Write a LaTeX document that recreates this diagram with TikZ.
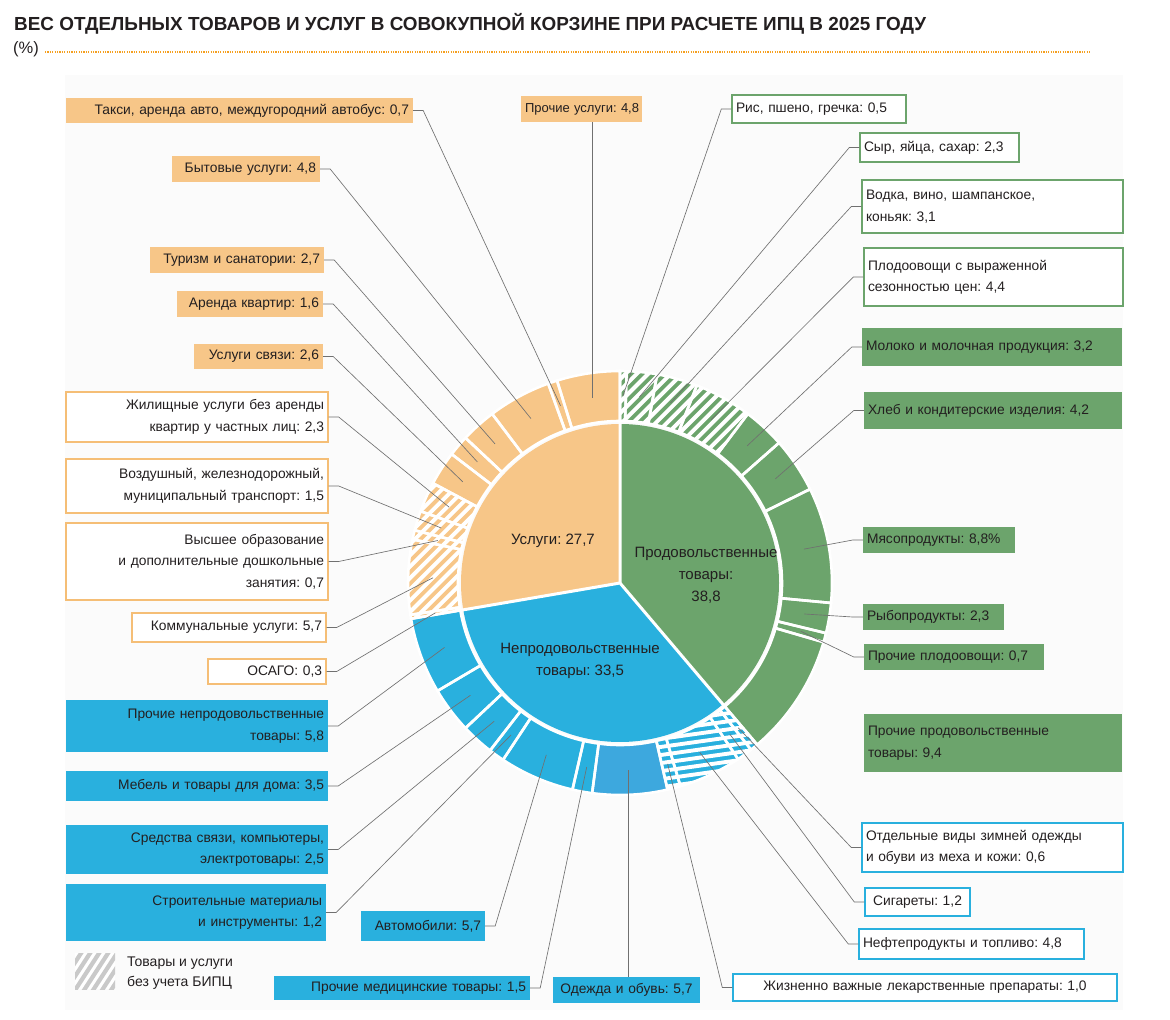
\documentclass[tikz,border=0pt]{standalone}
\usepackage{fontspec}
\setmainfont{Liberation Sans}
\usetikzlibrary{calc}
\frenchspacing
\definecolor{svc}{HTML}{F7C688}
\definecolor{svcb}{HTML}{F5BE76}
\definecolor{food}{HTML}{6CA46C}
\definecolor{nonf}{HTML}{29B0DE}
\definecolor{nonfb}{HTML}{3DA8DE}
\definecolor{ink}{HTML}{231F20}
\definecolor{lead}{HTML}{707070}
\definecolor{dotc}{HTML}{F5A020}
\definecolor{panel}{HTML}{FBFBFB}
\definecolor{hatchgray}{HTML}{C9C9C9}
\tikzset{
  lbl/.style={rectangle, inner xsep=4pt, inner ysep=0pt, text=ink,
    font=\frenchspacing\fontsize{13.8}{21.5}\selectfont},
  svcF/.style={lbl, fill=svc, align=right},
  svcW/.style={lbl, fill=white, draw=svcb, line width=1.4pt, align=right},
  nonF/.style={lbl, fill=nonf, align=right},
  nonW/.style={lbl, fill=white, draw=nonf, line width=1.4pt, align=left},
  foodF/.style={lbl, fill=food, align=left},
  foodW/.style={lbl, fill=white, draw=food, line width=1.4pt, align=left},
  smalltxt/.style={font=\frenchspacing\fontsize{13}{20}\selectfont},
  leader/.style={draw=lead, line width=0.65pt},
  innertxt/.style={text=ink, align=center, font=\frenchspacing\fontsize{15}{22}\selectfont},
  sepline/.style={white, line width=2.6pt},
}
% label box: name, x1, y1, x2, y2 (pixels, y downward), style, text
\newcommand\lab[7]{%
  \pgfmathsetmacro\labw{#4-#2}\pgfmathsetmacro\labh{#5-#3}%
  \pgfmathsetmacro\labx{(#2+#4)/2}\pgfmathsetmacro\laby{-(#3+#5)/2}%
  \pgfmathsetmacro\labt{#4-#2-8}%
  \node[#6, minimum width=\labw pt, minimum height=\labh pt, text width=\labt pt] (#1) at (\labx,\laby) {#7};}
\newcommand\segp[2]{(#1:162) arc[start angle=#1,end angle=#2,radius=162] -- (#2:212) arc[start angle=#2,end angle=#1,radius=212] -- cycle}
\newcommand\sseg[3]{\fill[#3] \segp{#1}{#2};}
\newcommand\hseg[4]{\begin{scope}\clip \segp{#1}{#2};
  \fill[#3] (-230,-230) rectangle (230,230);
  \foreach \k in {-320,-312,...,320}{\draw[white,line width=3.9pt,rotate=#4] (\k,-320) -- (\k,320);}
  \end{scope}}
\newcommand\bseg[2]{\draw[sepline] \segp{#1}{#2};}
\begin{document}
\begin{tikzpicture}[x=1pt,y=1pt]
\useasboundingbox (0,0) rectangle (1170,-1020);
\fill[white] (0,0) rectangle (1170,-1020);
\fill[panel] (65,-75) rectangle (1123,-1010);

% title
\node[anchor=base west, inner sep=0pt, text=ink, font=\bfseries\fontsize{18.9}{22}\selectfont] (title) at (14,-30)
  {ВЕС ОТДЕЛЬНЫХ ТОВАРОВ И УСЛУГ В СОВОКУПНОЙ КОРЗИНЕ ПРИ РАСЧЕТЕ ИПЦ В 2025 ГОДУ};
\node[anchor=base west, inner sep=0pt, text=ink, font=\fontsize{16.5}{18}\selectfont] (pct) at (13,-53) {(\%)};
\draw[dotc, line width=1.3pt, dash pattern=on 1.2pt off 1.2pt] (45,-52) -- (1091,-52);

\begin{scope}[shift={(620,-583)}]
  % inner pie
  \fill[food] (0,0) -- (90:159) arc[start angle=90,end angle=-49.68,radius=159] -- cycle;
  \fill[nonf] (0,0) -- (-49.68:159) arc[start angle=-49.68,end angle=-170.28,radius=159] -- cycle;
  \fill[svc] (0,0) -- (-170.28:159) arc[start angle=-170.28,end angle=-270,radius=159] -- cycle;
  \draw[white,line width=3pt] (0,0) -- (90:161) (0,0) -- (-49.68:161) (0,0) -- (-170.28:161);
  % food ring
  \hseg{90}{88.2}{food}{-45}
  \hseg{88.2}{79.92}{food}{-45}
  \hseg{79.92}{68.76}{food}{-45}
  \hseg{68.76}{52.92}{food}{-45}
  \sseg{52.92}{41.4}{food}
  \sseg{41.4}{26.28}{food}
  \sseg{26.28}{-5.4}{food}
  \sseg{-5.4}{-13.68}{food}
  \sseg{-13.68}{-16.2}{food}
  \sseg{-16.2}{-49.68}{food}
  % non-food ring
  \hseg{-49.68}{-51.84}{nonf}{-82}
  \hseg{-51.84}{-56.16}{nonf}{-82}
  \hseg{-56.16}{-73.44}{nonf}{-82}
  \hseg{-73.44}{-77.04}{nonf}{-82}
  \sseg{-77.04}{-97.56}{nonfb}
  \sseg{-97.56}{-102.96}{nonf}
  \sseg{-102.96}{-123.48}{nonf}
  \sseg{-123.48}{-127.8}{nonf}
  \sseg{-127.8}{-136.8}{nonf}
  \sseg{-136.8}{-149.4}{nonf}
  \sseg{-149.4}{-170.28}{nonf}
  % services ring
  \hseg{-170.28}{-171.36}{svc}{-45}
  \hseg{-171.36}{-191.88}{svc}{-45}
  \hseg{-191.88}{-194.4}{svc}{-45}
  \hseg{-194.4}{-199.8}{svc}{-45}
  \hseg{-199.8}{-208.08}{svc}{-45}
  \sseg{-208.08}{-217.44}{svc}
  \sseg{-217.44}{-223.2}{svc}
  \sseg{-223.2}{-232.92}{svc}
  \sseg{-232.92}{-250.2}{svc}
  \sseg{-250.2}{-252.72}{svc}
  \sseg{-252.72}{-270}{svc}
  % separators
  \foreach \a/\b in {90/88.2,88.2/79.92,79.92/68.76,68.76/52.92,52.92/41.4,41.4/26.28,26.28/-5.4,-5.4/-13.68,-13.68/-16.2,-16.2/-49.68,
    -49.68/-51.84,-51.84/-56.16,-56.16/-73.44,-73.44/-77.04,-77.04/-97.56,-97.56/-102.96,-102.96/-123.48,-123.48/-127.8,-127.8/-136.8,-136.8/-149.4,-149.4/-170.28,
    -170.28/-171.36,-171.36/-191.88,-191.88/-194.4,-194.4/-199.8,-199.8/-208.08,-208.08/-217.44,-217.44/-223.2,-223.2/-232.92,-232.92/-250.2,-250.2/-252.72,-252.72/-270}
    {\bseg{\a}{\b}}
  % leader end points
  \foreach \n/\ang in {ris/89.1,syr/84.06,vodka/74.34,plodsez/60.84,moloko/47.16,hleb/33.84,myaso/10.44,ryba/-9.54,prplod/-14.94,
    zimn/-50.76,sigar/-54,neft/-64.8,zhvlp/-75.24,odezhda/-87.3,prmed/-100.26,avto/-113.22,stroy/-125.64,sredstva/-132.3,mebel/-143.1,prnp/-159.84,
    osago/189.18,komm/178.38,vyssh/166.86,vozd/162.9,zhil/156.06,svyaz/147.24,arenda/139.68,tur/131.94,byt/118.44,taxi/108.54,prusl/98.64}
    {\coordinate (p-\n) at (\ang:187);}
\end{scope}

% inner labels
\node[innertxt] (t-svc) at (553,-541) {Услуги: 27,7};
\node[innertxt] (t-food) at (706,-575) {Продовольственные\\товары:\\38,8};
\node[innertxt] (t-nonf) at (580,-661) {Непродовольственные\\товары: 33,5};

% services labels
\lab{taxi}{66}{98}{413}{123}{svcF}{Такси, аренда авто, междугородний автобус: 0,7}
\lab{byt}{172}{156}{320}{182}{svcF}{Бытовые услуги: 4,8}
\lab{tur}{150}{247}{324}{273}{svcF}{Туризм и санатории: 2,7}
\lab{arenda}{177}{291}{323}{317}{svcF}{Аренда квартир: 1,6}
\lab{svyaz}{194}{344}{323}{369}{svcF}{Услуги связи: 2,6}
\lab{zhil}{66}{392}{328}{442}{svcW}{Жилищные услуги без аренды\\квартир у частных лиц: 2,3}
\lab{vozd}{66}{459}{328}{513}{svcW}{Воздушный, железнодорожный,\\муниципальный транспорт: 1,5}
\lab{vyssh}{66}{523}{328}{600}{svcW}{Высшее образование\\и дополнительные дошкольные\\занятия: 0,7}
\lab{komm}{132}{613}{326}{642}{svcW}{Коммунальные услуги: 5,7}
\lab{osago}{208}{659}{326}{684}{svcW}{ОСАГО: 0,3}
\lab{prusl}{521}{96}{642}{122}{svcF,align=center,smalltxt}{\mbox{Прочие услуги: 4,8}}

% non-food labels
\lab{prnp}{66}{700}{328}{752}{nonF}{Прочие непродовольственные\\товары: 5,8}
\lab{mebel}{66}{771}{328}{801}{nonF}{Мебель и товары для дома: 3,5}
\lab{sredstva}{66}{825}{328}{874}{nonF}{Средства связи, компьютеры,\\электротовары: 2,5}
\lab{stroy}{66}{884}{326}{941}{nonF}{Строительные материалы\\и инструменты: 1,2}
\lab{avto}{361}{911}{485}{941}{nonF}{Автомобили: 5,7}
\lab{prmed}{274}{976}{530}{1000}{nonF}{Прочие медицинские товары: 1,5}
\lab{odezhda}{553}{977}{700}{1003}{nonF,align=center}{Одежда и обувь: 5,7}
\lab{zhvlp}{733}{974}{1117}{1001}{nonW,align=center}{Жизненно важные лекарственные препараты: 1,0}
\lab{neft}{859}{929}{1084}{959}{nonW}{Нефтепродукты и топливо: 4,8}
\lab{sigar}{865}{888}{970}{916}{nonW,align=center}{Сигареты: 1,2}
\lab{zimn}{862}{823}{1123}{872}{nonW}{Отдельные виды зимней одежды\\и обуви из меха и кожи: 0,6}

% food labels
\lab{ris}{732}{95}{906}{123}{foodW}{Рис, пшено, гречка: 0,5}
\lab{syr}{860}{133}{1019}{162}{foodW}{Сыр, яйца, сахар: 2,3}
\lab{vodka}{862}{180}{1123}{233}{foodW}{Водка, вино, шампанское,\\коньяк: 3,1}
\lab{plodsez}{864}{248}{1123}{306}{foodW}{Плодоовощи с выраженной\\сезонностью цен: 4,4}
\lab{moloko}{862}{328}{1122}{366}{foodF}{Молоко и молочная продукция: 3,2}
\lab{hleb}{864}{392}{1122}{429}{foodF}{Хлеб и кондитерские изделия: 4,2}
\lab{myaso}{863}{527}{1015}{553}{foodF}{Мясопродукты: 8,8\%}
\lab{ryba}{863}{604}{1004}{630}{foodF}{Рыбопродукты: 2,3}
\lab{prplod}{864}{644}{1044}{670}{foodF}{Прочие плодоовощи: 0,7}
\lab{prprod}{864}{714}{1122}{772}{foodF}{Прочие продовольственные\\товары: 9,4}

% leaders: labels on the left
\foreach \n in {taxi,byt,tur,arenda,svyaz,zhil,vozd,vyssh,komm,osago,prnp,mebel,sredstva,stroy,avto,prmed}
  {\draw[leader] (\n.east) -- ++(10,0) -- (p-\n);}
% leaders: labels on the right
\foreach \n in {zhvlp,neft,sigar,zimn,ris,syr,vodka,plodsez,moloko,hleb,myaso,ryba,prplod}
  {\draw[leader] (\n.west) -- ++(-10,0) -- (p-\n);}
% vertical leaders
\draw[leader] (prusl.south -| p-prusl) -- (p-prusl);
\draw[leader] (odezhda.north -| p-odezhda) -- (p-odezhda);

% legend
\node[minimum width=40pt, minimum height=36pt, inner sep=0pt, fill=white,
  path picture={\foreach \k in {-90,-81,...,40}{\draw[hatchgray,line width=4.2pt] ([shift={(\k pt,-30pt)}]path picture bounding box.center) -- ++(57:90);}}]
  (legbox) at (95,-971) {};
\node[anchor=west, inner sep=0pt, align=left, text=ink, font=\fontsize{14}{20}\selectfont] (legtext) at (127,-973)
  {Товары и услуги\\без учета БИПЦ};
\end{tikzpicture}
\end{document}
